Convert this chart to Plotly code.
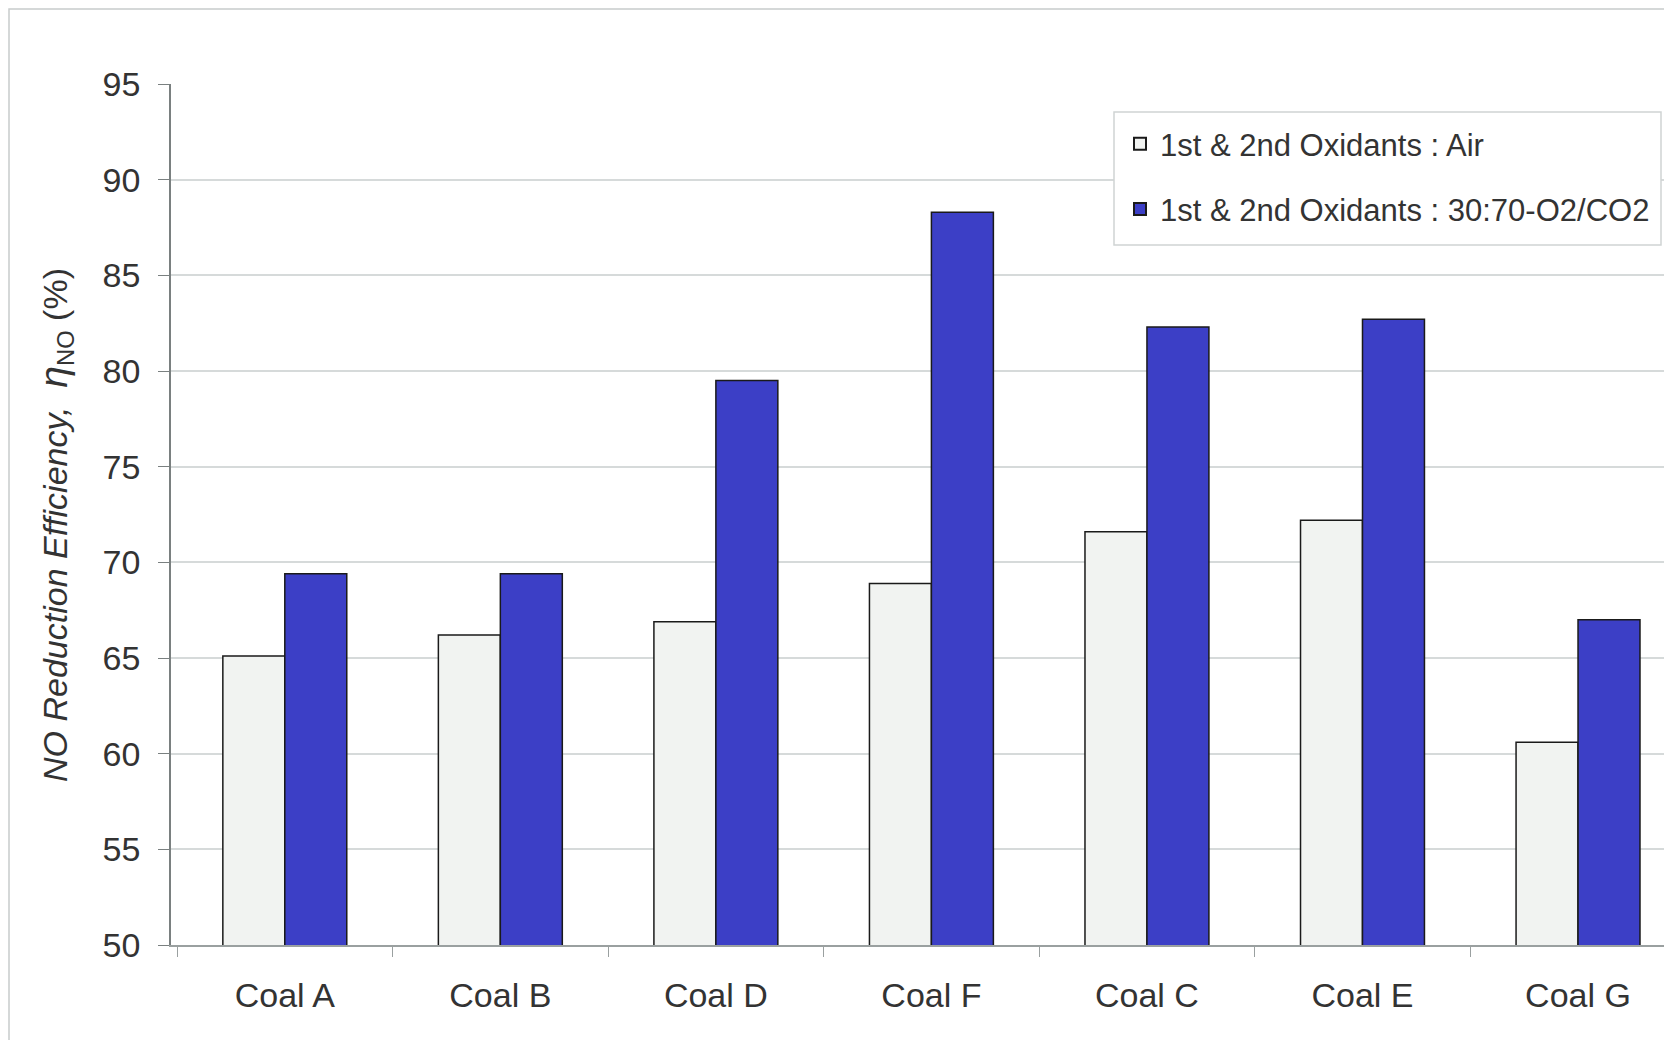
import plotly.graph_objects as go

categories = ["Coal A", "Coal B", "Coal D", "Coal F", "Coal C", "Coal E", "Coal G"]
air_values = [65.1, 66.2, 66.9, 68.9, 71.6, 72.2, 60.6]
oxy_values = [69.4, 69.4, 79.5, 88.3, 82.3, 82.7, 67.0]
series_names = ["1st & 2nd Oxidants : Air", "1st & 2nd Oxidants : 30:70-O2/CO2"]
y_ticks = [50, 55, 60, 65, 70, 75, 80, 85, 90, 95]

FONT = "Liberation Sans, Arial, sans-serif"
TXT = "#333333"

W, H = 1664, 1032
L, T, B, R = 163, 76, 95, 0
PW = W - L - R
PH = H - T - B


def px_x(x):
    return (x - L) / PW


def px_y(y):
    return (T + PH - y) / PH


fig = go.Figure()
fig.add_trace(go.Bar(
    x=categories, y=air_values, name=series_names[0], legendgroup="a",
    marker=dict(color="#f1f3f1", line=dict(color="#1a1a1a", width=1.5)),
))
fig.add_trace(go.Bar(
    x=categories, y=oxy_values, name=series_names[1], legendgroup="b",
    marker=dict(color="#3c3fc6", line=dict(color="#1a1a1a", width=1.5)),
))

fig.update_layout(
    width=W, height=H,
    margin=dict(l=L, r=R, t=T, b=B, autoexpand=False),
    paper_bgcolor="white", plot_bgcolor="white",
    font=dict(family=FONT, color=TXT, size=30),
    barmode="group", bargap=0.425, bargroupgap=0,
    showlegend=True,
    legend=dict(
        x=px_x(1112), y=px_y(109), xanchor="left", yanchor="top",
        bgcolor="rgba(0,0,0,0)", borderwidth=0,
        font=dict(family=FONT, size=31, color=TXT),
        traceorder="grouped", tracegroupgap=22,
        itemsizing="constant",
    ),
    xaxis=dict(
        range=[-0.528, 6.436],
        showline=True, linecolor="#9aa0a0", linewidth=1.5,
        ticks="outside", ticklen=10, tickcolor="#9aa0a0", tickson="boundaries",
        tickfont=dict(family=FONT, size=34, color=TXT),
        ticklabelstandoff=19,
        showgrid=False, zeroline=False,
    ),
    yaxis=dict(
        range=[50, 95], tickvals=y_ticks,
        showline=True, linecolor="#7a8080", linewidth=1.5,
        ticks="outside", ticklen=11, tickcolor="#7a8080",
        tickfont=dict(family=FONT, size=34, color=TXT),
        ticklabelstandoff=11,
        showgrid=True, gridcolor="#d6dada", gridwidth=1.5,
        zeroline=False,
    ),
    annotations=[dict(
        text="<i>NO Reduction Efficiency,  </i><span style='font-size:39px'><i>η</i></span><sub>NO</sub> (%)",
        xref="paper", yref="paper", x=px_x(47), y=px_y(517),
        xanchor="center", yanchor="middle", textangle=-90, showarrow=False,
        font=dict(family=FONT, size=34, color=TXT),
    )],
    shapes=[
        dict(
            type="rect", xref="paper", yref="paper",
            x0=px_x(1), x1=px_x(W + 20), y0=-B / PH - 0.02, y1=px_y(1),
            line=dict(color="#c8cccc", width=1.5), fillcolor="rgba(0,0,0,0)", layer="below",
        ),
        dict(
            type="rect", xref="paper", yref="paper",
            x0=px_x(1106), x1=px_x(1653), y0=px_y(237), y1=px_y(104),
            line=dict(color="#d0d4d4", width=1.5), fillcolor="white", layer="above",
        ),
    ],
)

fig.write_html("out.html")
